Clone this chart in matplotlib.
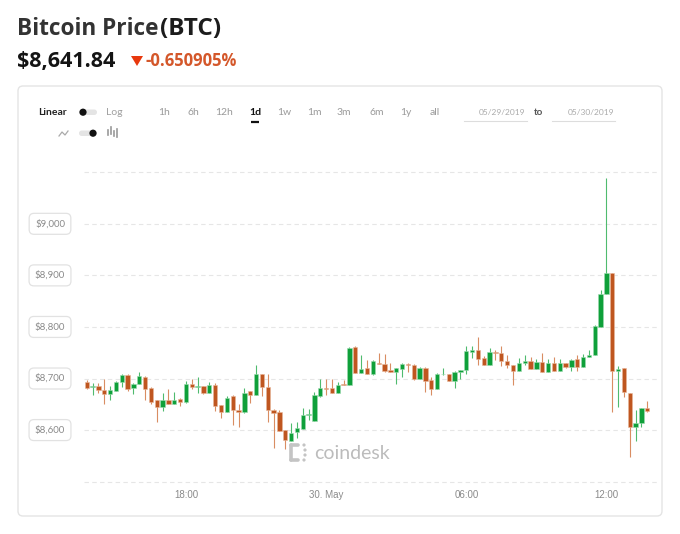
import matplotlib
matplotlib.use("Agg")
import matplotlib.pyplot as plt
import matplotlib.dates as mdates
from matplotlib.patches import FancyBboxPatch, Polygon, Circle
from matplotlib.ticker import FuncFormatter
from matplotlib.transforms import blended_transform_factory
import pandas as pd

# 15 minute BTC candles, 29-30 May 2019
times = pd.date_range("2019-05-29 13:45", periods=97, freq="15min")

opens = [8694, 8684, 8685, 8677, 8669, 8676, 8693, 8706, 8681, 8690,
         8703, 8682, 8658, 8645, 8659, 8651, 8660, 8655, 8689, 8684,
         8685, 8672, 8687, 8648, 8635, 8666, 8639, 8635, 8675, 8668,
         8708, 8683, 8639, 8635, 8600, 8579, 8596, 8603, 8629, 8618,
         8667, 8682, 8681, 8671, 8690, 8687, 8761, 8710, 8721, 8708,
         8731, 8729, 8716, 8713, 8718, 8728, 8727, 8699, 8721, 8697,
         8679, 8708, 8709, 8695, 8713, 8716, 8752, 8756, 8739, 8727,
         8752, 8750, 8734, 8727, 8714, 8731, 8734, 8719, 8732, 8713,
         8731, 8714, 8730, 8723, 8737, 8722, 8741, 8745, 8800, 8863,
         8904, 8714, 8720, 8672, 8606, 8614, 8643]
highs = [8697, 8692, 8692, 8699, 8686, 8695, 8708, 8708, 8692, 8712,
         8704, 8683, 8659, 8671, 8679, 8673, 8663, 8695, 8699, 8702,
         8685, 8694, 8692, 8648, 8667, 8668, 8650, 8682, 8675, 8727,
         8708, 8708, 8640, 8638, 8600, 8613, 8616, 8642, 8641, 8674,
         8699, 8699, 8699, 8694, 8698, 8761, 8763, 8745, 8736, 8736,
         8749, 8747, 8731, 8721, 8731, 8731, 8728, 8723, 8723, 8703,
         8710, 8721, 8709, 8714, 8716, 8764, 8764, 8781, 8744, 8759,
         8755, 8764, 8745, 8727, 8739, 8745, 8741, 8737, 8750, 8737,
         8742, 8737, 8730, 8738, 8745, 8747, 8756, 8803, 8872, 9088,
         8904, 8725, 8720, 8672, 8638, 8643, 8657]
lows = [8679, 8668, 8672, 8650, 8658, 8676, 8684, 8676, 8670, 8689,
        8658, 8650, 8616, 8637, 8651, 8651, 8647, 8653, 8679, 8671,
        8670, 8671, 8637, 8624, 8635, 8609, 8606, 8634, 8653, 8668,
        8666, 8615, 8566, 8598, 8563, 8579, 8584, 8603, 8619, 8618,
        8664, 8668, 8671, 8671, 8687, 8687, 8710, 8710, 8708, 8706,
        8728, 8713, 8713, 8690, 8702, 8713, 8697, 8699, 8673, 8668,
        8679, 8706, 8695, 8681, 8699, 8709, 8740, 8727, 8727, 8727,
        8735, 8725, 8721, 8687, 8714, 8726, 8718, 8718, 8713, 8712,
        8714, 8714, 8721, 8715, 8714, 8722, 8741, 8745, 8800, 8863,
        8635, 8645, 8665, 8548, 8579, 8606, 8635]
closes = [8681, 8685, 8677, 8669, 8677, 8693, 8706, 8680, 8690, 8705,
          8680, 8655, 8645, 8659, 8651, 8659, 8654, 8689, 8684, 8685,
          8672, 8687, 8647, 8635, 8663, 8639, 8635, 8672, 8668, 8708,
          8684, 8639, 8634, 8598, 8580, 8595, 8604, 8630, 8630, 8668,
          8681, 8679, 8672, 8687, 8687, 8760, 8710, 8719, 8708, 8734,
          8728, 8715, 8713, 8721, 8728, 8727, 8700, 8721, 8695, 8679,
          8709, 8709, 8695, 8713, 8716, 8754, 8756, 8738, 8727, 8752,
          8749, 8733, 8727, 8714, 8731, 8734, 8719, 8732, 8713, 8731,
          8714, 8730, 8723, 8736, 8722, 8741, 8746, 8801, 8863, 8905,
          8714, 8719, 8674, 8606, 8614, 8643, 8637]

y_ticks = [8500, 8600, 8700, 8800, 8900, 9000, 9100]
y_labels = [8600, 8700, 8800, 8900, 9000]
periods = ["1h", "6h", "12h", "1d", "1w", "1m", "3m", "6m", "1y", "all"]
period_x = [164, 193, 224, 255, 284, 314, 344, 377, 406, 435]

GREEN = "#0fa03a"
ORANGE = "#bf5620"

fig = plt.figure(figsize=(6.8, 5.34), dpi=100)
fig.patch.set_facecolor("white")

# background layer in pixel coordinates
bg = fig.add_axes([0, 0, 1, 1])
bg.set_xlim(0, 680)
bg.set_ylim(534, 0)
bg.axis("off")

bg.add_patch(FancyBboxPatch((18, 86), 644, 430, boxstyle="round,pad=0,rounding_size=5",
                            fc="white", ec="#e4e4e4", lw=1))

# header
bg.text(17, 35, "Bitcoin Price", fontsize=16.3, weight="bold", color="#333333", family="Open Sans")
bg.text(160, 35, "(BTC)", fontsize=17.5, weight="bold", color="#1c1c1c", family="Open Sans")
bg.text(17, 67, "$8,641.84", fontsize=15.5, weight="bold", color="#141414", family="Open Sans")
bg.add_patch(Polygon([(131, 56), (143, 56), (137, 66)], closed=True, fc="#e8380d", ec="none"))
bg.text(145, 66, "-0.650905%", fontsize=12, weight="bold", color="#d4572a", family="Open Sans")

# controls
bg.text(38, 115, "Linear", fontsize=7.5, weight="bold", color="#222222", family="Lato")
bg.add_patch(FancyBboxPatch((79, 109.5), 18, 5.5, boxstyle="round,pad=0,rounding_size=2.75",
                            fc="#e4e4e4", ec="none"))
bg.add_patch(Circle((83, 112.2), 3.6, fc="#111111", ec="none"))
bg.text(106, 115, "Log", fontsize=7.5, color="#a0a0a0", family="Lato")
for p, px in zip(periods, period_x):
    if p == "1d":
        bg.text(px, 115, p, fontsize=7.5, weight="bold", color="#111111", ha="center", family="Lato")
        bg.plot([px - 4, px + 4], [121.5, 121.5], color="#111111", lw=1.6, solid_capstyle="butt")
    else:
        bg.text(px, 115, p, fontsize=7.5, color="#9a9a9a", ha="center", family="Lato")
bg.text(525, 115, "05/29/2019", fontsize=6, color="#aaaaaa", ha="right", family="Lato")
bg.plot([464, 527], [121, 121], color="#dddddd", lw=0.8)
bg.text(539, 115, "to", fontsize=7, weight="bold", color="#555555", ha="center", family="Lato")
bg.text(614, 115, "05/30/2019", fontsize=6, color="#aaaaaa", ha="right", family="Lato")
bg.plot([552, 615], [121, 121], color="#dddddd", lw=0.8)

bg.plot([59, 62, 65, 68], [136, 132, 135, 131], color="#aaaaaa", lw=0.9)
bg.add_patch(FancyBboxPatch((79, 130.5), 18, 5.5, boxstyle="round,pad=0,rounding_size=2.75",
                            fc="#e4e4e4", ec="none"))
bg.add_patch(Circle((93, 133.2), 3.6, fc="#111111", ec="none"))
for bx, y0, y1 in [(108, 130, 135), (111, 127, 134), (114, 131, 136), (117, 129, 137)]:
    bg.plot([bx, bx], [y0, y1], color="#999999", lw=1.2)

# watermark
for seg in [([291, 291], [445, 460]), ([291, 298], [445, 445]), ([291, 298], [460, 460])]:
    bg.plot(seg[0], seg[1], color="#c4c4c4", lw=2.6, solid_capstyle="round")
for cx, cy in [(304, 445), (304, 460), (305, 450), (305, 455)]:
    bg.add_patch(Circle((cx, cy), 1.6, fc="#c4c4c4", ec="none"))
bg.text(314, 459, "coindesk", fontsize=14, color="#bcbcbc", family="Lato")

# candlestick axes
ax = fig.add_axes([84 / 680, 1 - 486.8 / 534, 576 / 680, (486.8 - 167.1) / 534])
ax.set_facecolor("none")
for s in ax.spines.values():
    s.set_visible(False)

x = mdates.date2num(times.to_pydatetime())
step = 1 / 96
up = [c >= o for o, c in zip(opens, closes)]
body_col = [GREEN if u else ORANGE for u in up]
wick_col = ["#4fbb6e" if u else "#d98d62" for u in up]
bottoms = [min(o, c) for o, c in zip(opens, closes)]
heights = [max(abs(c - o), 1.5) for o, c in zip(opens, closes)]

ax.vlines(x, lows, highs, colors=wick_col, lw=0.8, zorder=2)
ax.bar(x, heights, width=step * 0.74, bottom=bottoms, color=body_col,
       edgecolor=["#9edbb0" if u else "#e8b89b" for u in up], lw=0.4, zorder=3)

ax.set_xlim(x[0] - 0.46 * step, x[0] + 98.17 * step)
ax.set_ylim(8490, 9110)
ax.set_yticks(y_ticks)
ax.set_yticklabels([])
ax.grid(axis="y", color="#e6e6e6", lw=0.8, dashes=(4, 3))
ax.set_axisbelow(True)

ax.xaxis.set_major_locator(mdates.HourLocator(byhour=[0, 6, 12, 18]))


def fmt(v, pos):
    d = mdates.num2date(v)
    return "30. May" if d.hour == 0 else d.strftime("%H:%M")


ax.xaxis.set_major_formatter(FuncFormatter(fmt))
ax.tick_params(axis="both", length=0)
ax.tick_params(axis="x", labelsize=7, labelcolor="#8a8a8a", pad=2)
for lab in ax.get_xticklabels():
    lab.set_family("Liberation Sans")

trans = blended_transform_factory(bg.transData, ax.transData)
for v in y_labels:
    ax.text(50, v, f"${v:,}", transform=trans, ha="center", va="center", fontsize=7,
            color="#8a8a8a", family="Lato",
            bbox=dict(boxstyle="round,pad=0.6,rounding_size=0.5", fc="white", ec="#e2e2e2", lw=0.9))

fig.savefig("out.png", dpi=100)
